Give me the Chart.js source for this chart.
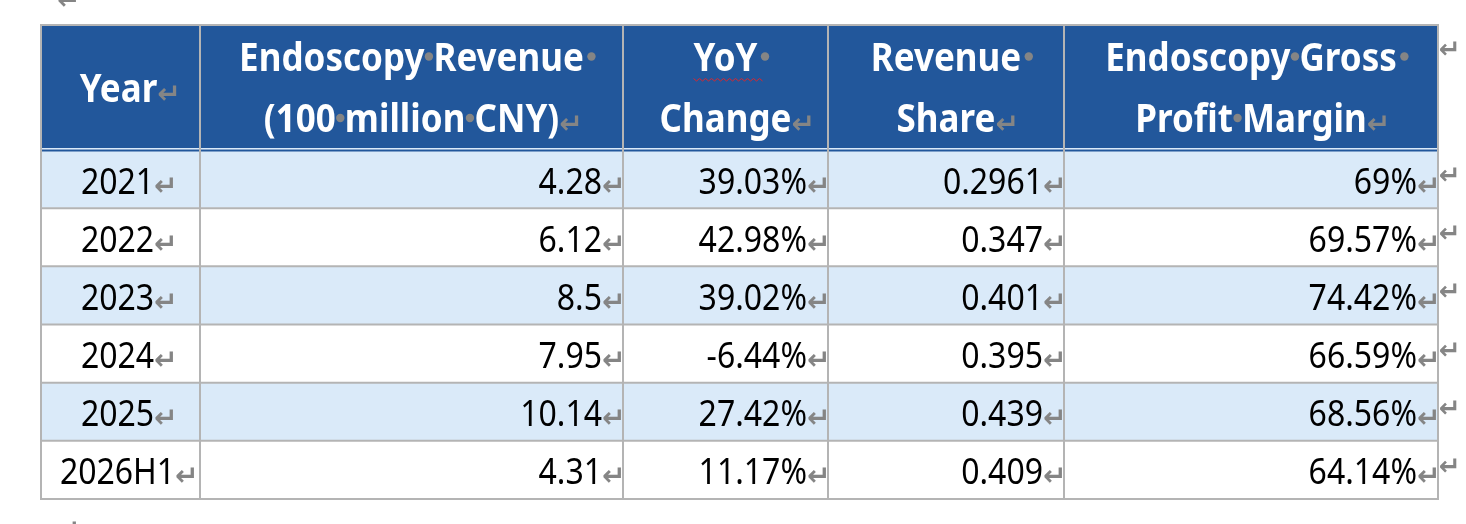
<!DOCTYPE html>
<html><head><meta charset="utf-8">
<script src="https://cdn.jsdelivr.net/npm/chart.js@4/dist/chart.umd.min.js"></script>
<style>html,body{margin:0;padding:0;background:#fff;overflow:hidden}#wrap{width:1466px;height:524px;position:relative}</style>
</head><body><div id="wrap"><canvas id="c"></canvas></div>
<script>
// ---- data ----
const headerLines = [
  ['Year'],
  ['Endoscopy Revenue ', '(100 million CNY)'],
  ['YoY ', 'Change'],
  ['Revenue ', 'Share'],
  ['Endoscopy Gross ', 'Profit Margin']
];
const years = ['2021', '2022', '2023', '2024', '2025', '2026H1'];
const revenue = [4.28, 6.12, 8.5, 7.95, 10.14, 4.31];
const yoyChange = [39.03, 42.98, 39.02, -6.44, 27.42, 11.17];
const revenueShare = [0.2961, 0.347, 0.401, 0.395, 0.439, 0.409];
const grossMargin = [69, 69.57, 74.42, 66.59, 68.56, 64.14];

// ---- layout / style ----
const colEdges = [0, 159, 582, 787, 1023, 1397];
const colAlign = ['center', 'right', 'right', 'right', 'right'];
const HEADER_TOP = 25, HEADER_BOTTOM = 148;
const BLUE = '#22579b', LIGHT = '#daeaf9', GRID = '#b4b4b4', MARK = '#858585';
const SY = 1.14;
const cellText = [
  years,
  revenue.map(v => String(v)),
  yoyChange.map(v => v.toFixed(2) + '%'),
  revenueShare.map(v => String(v)),
  grossMargin.map(v => String(v) + '%')
];
const rowColors = years.map((_, i) => i % 2 === 0 ? LIGHT : '#ffffff');

function fillStretch(ctx, t, x, y) {
  ctx.save(); ctx.translate(x, y); ctx.scale(1, SY); ctx.fillText(t, 0, 0); ctx.restore();
}
function drawMark(ctx, x, y, size) {
  ctx.save(); ctx.font = 'bold ' + (size || 28) + 'px "DejaVu Sans"'; ctx.fillStyle = MARK;
  ctx.textAlign = 'left'; ctx.textBaseline = 'alphabetic'; ctx.fillText('\u21B5', x, y); ctx.restore();
}
function drawHeaderLine(ctx, line, cx, baseline, isLast, squiggle) {
  const trailing = line.endsWith(' ');
  const words = line.trim().split(' ');
  ctx.font = 'bold 35px "Noto Sans"';
  ctx.textAlign = 'left'; ctx.textBaseline = 'alphabetic';
  const sp = ctx.measureText(' ').width;
  const ws = words.map(w => ctx.measureText(w).width);
  const total = ws.reduce((a, b) => a + b, 0) + sp * (words.length - 1);
  let x = cx - total / 2;
  const x0 = x;
  words.forEach((w, i) => {
    ctx.fillStyle = '#ffffff';
    fillStretch(ctx, w, x, baseline);
    x += ws[i];
    if (i < words.length - 1 || trailing) {
      ctx.fillStyle = MARK;
      ctx.beginPath(); ctx.arc(x + sp / 2 + (i === words.length - 1 ? 3 : 0), baseline - 14, 4.2, 0, Math.PI * 2); ctx.fill();
      x += sp;
    }
  });
  if (squiggle) {
    ctx.save(); ctx.strokeStyle = '#e0262b'; ctx.lineWidth = 1;
    ctx.beginPath();
    let k = 0;
    for (let sx = x0; sx <= x0 + total + 8; sx += 3, k++) {
      const sy = baseline + 8 + (k % 2 ? 2.5 : 0);
      if (k === 0) ctx.moveTo(sx, sy); else ctx.lineTo(sx, sy);
    }
    ctx.stroke(); ctx.restore();
  }
  if (isLast) drawMark(ctx, x, baseline + 1);
}

const tablePlugin = {
  id: 'tablePlugin',
  afterDatasetsDraw(chart) {
    const ctx = chart.ctx;
    const xs = chart.scales.x, ys = chart.scales.y;
    const X = v => xs.getPixelForValue(v);
    const half = (ys.getPixelForValue(1) - ys.getPixelForValue(0)) / 2;
    const left = X(colEdges[0]), right = X(colEdges[colEdges.length - 1]);
    const bottom = ys.getPixelForValue(years.length - 1) + half;
    ctx.save();
    // header band
    ctx.fillStyle = BLUE;
    ctx.fillRect(left, HEADER_TOP, right - left, HEADER_BOTTOM - HEADER_TOP);
    ctx.fillStyle = LIGHT;
    ctx.fillRect(left, HEADER_BOTTOM, right - left, 1.5);
    ctx.fillStyle = BLUE;
    ctx.fillRect(left, HEADER_BOTTOM + 1.5, right - left, 2);
    // horizontal grid lines
    ctx.strokeStyle = GRID; ctx.lineWidth = 2;
    const hy = [HEADER_TOP];
    for (let i = 0; i < years.length - 1; i++) hy.push(ys.getPixelForValue(i) + half);
    hy.push(bottom);
    hy.forEach(y => { ctx.beginPath(); ctx.moveTo(left - 1, y); ctx.lineTo(right + 1, y); ctx.stroke(); });
    // vertical grid lines
    colEdges.forEach(e => { const x = X(e); ctx.beginPath(); ctx.moveTo(x, HEADER_TOP - 1); ctx.lineTo(x, bottom + 1); ctx.stroke(); });
    // header text
    const hc = (HEADER_TOP + HEADER_BOTTOM) / 2;
    headerLines.forEach((lines, c) => {
      const cx = (X(colEdges[c]) + X(colEdges[c + 1])) / 2;
      if (lines.length === 1) {
        drawHeaderLine(ctx, lines[0], cx - 2, hc + 15, true, false);
      } else {
        drawHeaderLine(ctx, lines[0], cx, hc - 16, false, c === 2);
        drawHeaderLine(ctx, lines[1], cx, hc + 45.5, true, false);
      }
    });
    drawMark(ctx, right + 1, hc - 29, 26);
    // body text
    ctx.textBaseline = 'alphabetic'; ctx.textAlign = 'left';
    cellText.forEach((col, c) => {
      const l = X(colEdges[c]), r = X(colEdges[c + 1]);
      col.forEach((t, i) => {
        const yb = ys.getPixelForValue(i) + 14.5;
        ctx.font = '32px "Noto Sans"'; ctx.fillStyle = '#000000';
        const w = ctx.measureText(t).width;
        const tx = colAlign[c] === 'center' ? (l + r) / 2 - 3 - w / 2 : r - 21 - w;
        fillStretch(ctx, t, tx, yb);
        drawMark(ctx, tx + w, yb + 1);
      });
    });
    years.forEach((_, i) => drawMark(ctx, right + 1, ys.getPixelForValue(i) + 5, 26));
    drawMark(ctx, 57, 9);
    drawMark(ctx, 57, 539);
    ctx.restore();
  }
};

const datasets = headerLines.map((_, c) => ({
  label: 'col' + c,
  data: years.map(() => [colEdges[c], colEdges[c + 1]]),
  backgroundColor: rowColors,
  borderWidth: 0,
  barPercentage: 1,
  categoryPercentage: 1,
  grouped: false
}));

new Chart(document.getElementById('c'), {
  type: 'bar',
  data: { labels: years, datasets },
  options: {
    indexAxis: 'y',
    responsive: true,
    maintainAspectRatio: false,
    animation: false,
    layout: { padding: { left: 41, right: 28, top: 150, bottom: 25 } },
    scales: {
      x: { type: 'linear', min: 0, max: colEdges[colEdges.length - 1], display: false },
      y: { type: 'category', display: false }
    },
    plugins: { legend: { display: false }, tooltip: { enabled: false } },
    events: []
  },
  plugins: [tablePlugin]
});
</script>
</body></html>
